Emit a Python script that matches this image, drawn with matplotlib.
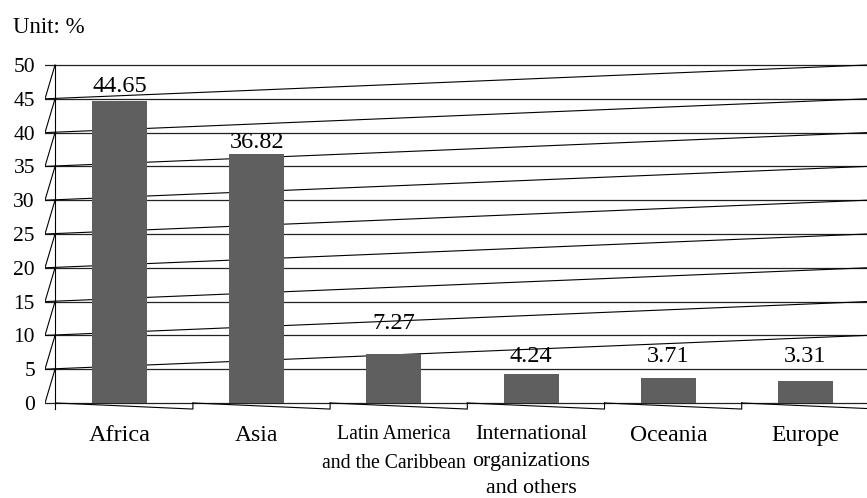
import numpy as np
import matplotlib.pyplot as plt

plt.rcParams['font.family'] = 'Liberation Serif'

regions = ['Africa', 'Asia', 'Latin America\nand the Caribbean',
           'International\norganizations\nand others', 'Oceania', 'Europe']
shares = [44.65, 36.82, 7.27, 4.24, 3.71, 3.31]
yticks = list(range(0, 55, 5))
# how far the value labels sit above each bar top (data units)
label_lift = [1.4, 0.85, 3.7, 1.76, 2.29, 2.69]
# the long category names were squeezed a bit in the original
label_sizes = [17.5, 17, 14.2, 15.8, 17, 17]

fig, ax = plt.subplots(figsize=(8.67, 4.98), dpi=100)
fig.subplots_adjust(left=45 / 867, right=1.0, top=1 - 64 / 498, bottom=1 - 416.5 / 498)

x = np.arange(len(regions))
ax.bar(x, shares, width=0.4, color='#5f5f5f', zorder=3)

x_left, x_right = -0.543, 5.448
x_axis = -0.47
ax.set_xlim(x_left, x_right)
ax.set_ylim(-2, 50.15)

# horizontal grid
ax.set_yticks(yticks)
ax.yaxis.grid(True, color='#222222', lw=0.9)
ax.set_axisbelow(True)
for s in ax.spines.values():
    s.set_visible(False)

line_kw = dict(color='black', lw=0.8, zorder=2)

# the slanted "back wall" lines of the fake 3d chart
for k in range(1, len(yticks) - 1):
    ax.plot([x_left, x_right], [yticks[k], yticks[k + 1]], **line_kw)

# little slashes left of the axis
for k in range(len(yticks) - 1):
    ax.plot([x_left, x_axis], [yticks[k], yticks[k + 1]], **line_kw)

# vertical axis
ax.plot([x_axis, x_axis], [-0.9, yticks[-1]], **line_kw)

# saw-tooth floor under the categories
edges = np.arange(len(regions) + 1) - 0.465
for i in range(len(regions)):
    ax.plot([edges[i], edges[i + 1], edges[i + 1]], [0, -0.9, 0], **line_kw)

for xi, v, lift in zip(x, shares, label_lift):
    ax.text(xi, v + lift, f'{v:.2f}', ha='center', va='baseline',
            fontsize=17.5, zorder=4)

ax.set_xticks(x)
ax.set_xticklabels(regions)
ax.tick_params(axis='x', length=0, pad=6.2)
for lab, fs in zip(ax.get_xticklabels(), label_sizes):
    lab.set_fontsize(fs)
    # keep the line pitch near 27 px whatever the size
    lab.set_linespacing(27 / (0.79 * fs * 100 / 72))
ax.tick_params(axis='y', length=0, pad=7.2, labelsize=15.5)

fig.text(13 / 867, 1 - 33 / 498, 'Unit: %', fontsize=16.5, va='baseline')

fig.savefig('out.png', dpi=100)
